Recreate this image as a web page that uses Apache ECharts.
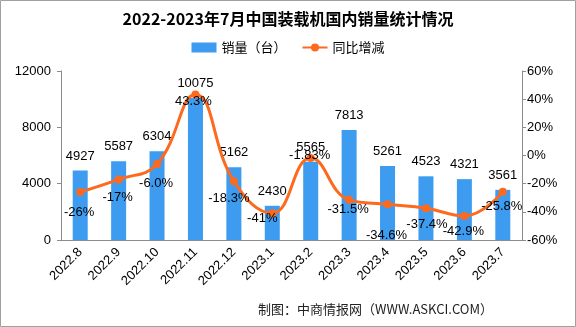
<!DOCTYPE html>
<html>
<head>
<meta charset="utf-8">
<script src="https://cdn.jsdelivr.net/npm/echarts@6/dist/echarts.min.js"></script>
<style>
html,body{margin:0;padding:0;background:#fff;}
#chart{width:576px;height:327px;}
</style>
</head>
<body>
<div id="chart"></div>
<script>
const categories = ['2022.8','2022.9','2022.10','2022.11','2022.12','2023.1','2023.2','2023.3','2023.4','2023.5','2023.6','2023.7'];
const sales = [4927, 5587, 6304, 10075, 5162, 2430, 5565, 7813, 5261, 4523, 4321, 3561];
const yoy = [-26, -17, -6.0, 43.3, -18.3, -41, -1.83, -31.5, -34.6, -37.4, -42.9, -25.8];
const yoyLabels = ['-26%','-17%','-6.0%','43.3%','-18.3%','-41%','-1.83%','-31.5%','-34.6%','-37.4%','-42.9%','-25.8%'];
const leftTicks = [0, 12000, 4000];
const rightTicks = [-60, 60, 20];

// label placement style (offset from point, px)
const yoyLabelOffset = [[-1,20],[-1,18],[-1,19],[-2,7],[-5,17],[-10,5],[-1,-3],[-1,10],[-1,31],[1,16],[-1,16],[-1,15]];

const font = 'Liberation Sans, Arial, sans-serif';
const chart = echarts.init(document.getElementById('chart'));
chart.setOption({
  animation: false,
  backgroundColor: '#fff',
  title: {
    text: '2022-2023年7月中国装载机国内销量统计情况',
    left: 'center', top: 6,
    textStyle: {fontSize: 16, fontWeight: 'bold', color: '#000', fontFamily: 'Noto Sans CJK SC'}
  },
  legend: {
    top: 36, left: 'center',
    itemWidth: 25, itemHeight: 10, itemGap: 15,
    textStyle: {fontSize: 13, color: '#000', fontFamily: 'Noto Sans CJK SC'},
    data: [
      {name: '销量（台）', icon: 'rect'},
      {name: '同比增减'}
    ]
  },
  grid: {left: 61, right: 54, top: 71, bottom: 87},
  xAxis: {
    type: 'category', data: categories,
    axisLine: {lineStyle: {color: '#8c8c8c'}},
    axisTick: {length: 4, lineStyle: {color: '#8c8c8c'}},
    axisLabel: {rotate: 45, margin: 10, fontSize: 13, color: '#000', fontFamily: font, interval: 0}
  },
  yAxis: [
    {
      type: 'value', min: leftTicks[0], max: leftTicks[1], interval: leftTicks[2],
      splitLine: {show: false},
      axisLine: {show: true, lineStyle: {color: '#8c8c8c'}},
      axisTick: {show: true, length: 4, lineStyle: {color: '#8c8c8c'}},
      axisLabel: {margin: 10, fontSize: 13, color: '#000', fontFamily: font, formatter: v => String(v)}
    },
    {
      type: 'value', min: rightTicks[0], max: rightTicks[1], interval: rightTicks[2],
      splitLine: {show: false},
      axisLine: {show: true, lineStyle: {color: '#8c8c8c'}},
      axisTick: {show: true, length: 4, lineStyle: {color: '#8c8c8c'}},
      axisLabel: {margin: 5, fontSize: 13, color: '#000', fontFamily: font, formatter: '{value}%'}
    }
  ],
  graphic: [
    {type: 'rect', shape: {x: 0.5, y: 0.5, width: 575, height: 326}, style: {fill: 'none', stroke: '#a0a0a0', lineWidth: 1}, z: 100},
    {type: 'text', right: 83, top: 303, style: {text: '制图：中商情报网（WWW.ASKCI.COM）', font: '13px "Noto Sans CJK SC"', fill: '#222'}}
  ],
  series: [
    {
      name: '销量（台）', type: 'bar', data: sales, barWidth: 15,
      itemStyle: {color: '#3d9cf0'},
      label: {show: true, position: 'top', distance: 8, fontSize: 13, color: '#000', fontFamily: font}
    },
    {
      name: '同比增减', type: 'line', yAxisIndex: 1, smooth: 0.45,
      data: yoy.map((v, i) => ({
        value: v,
        label: {offset: yoyLabelOffset[i]}
      })),
      symbol: 'circle', symbolSize: 8,
      lineStyle: {color: '#fd6a1d', width: 3},
      itemStyle: {color: '#fd6a1d'},
      label: {
        show: true, position: 'inside', fontSize: 13, color: '#000', fontFamily: font,
        formatter: p => yoyLabels[p.dataIndex]
      },
      z: 3
    }
  ]
});
</script>
</body>
</html>
